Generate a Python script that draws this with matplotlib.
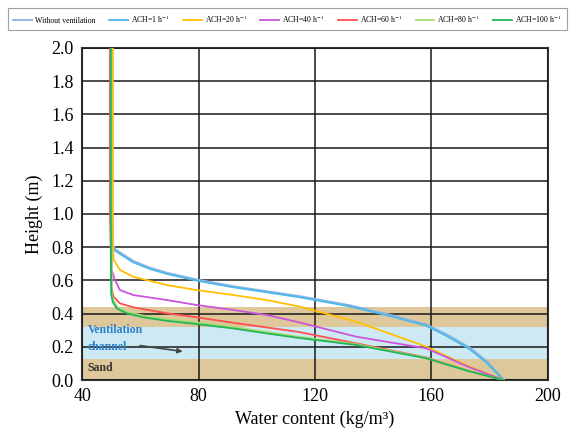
import matplotlib
matplotlib.use("Agg")
import matplotlib.pyplot as plt

plt.rcParams["mathtext.fontset"] = "stix"

# ---------------- data ----------------
labels = ["Without ventilation", "ACH=1 h$^{-1}$", "ACH=20 h$^{-1}$", "ACH=40 h$^{-1}$",
          "ACH=60 h$^{-1}$", "ACH=80 h$^{-1}$", "ACH=100 h$^{-1}$"]

x_novent = [50.3, 50.3, 50.4, 51.5, 57.8, 63.5, 69.3, 79.6, 92.2, 103.6, 115.0, 132.2, 145.9, 158.5, 165.4, 173.4, 179.2, 185.0]
y_novent = [2.00, 1.00, 0.82, 0.786, 0.716, 0.676, 0.646, 0.605, 0.565, 0.535, 0.505, 0.450, 0.393, 0.334, 0.274, 0.194, 0.113, 0.00]

x_ach1 = [50.0, 50.0, 50.1, 51.2, 57.4, 63.1, 68.9, 79.2, 91.8, 103.2, 114.6, 131.8, 145.5, 158.1, 165.0, 173.0, 178.8, 184.8]
y_ach1 = [2.00, 1.00, 0.81, 0.780, 0.710, 0.670, 0.640, 0.599, 0.559, 0.529, 0.499, 0.444, 0.387, 0.328, 0.268, 0.188, 0.107, 0.00]

x_ach20 = [50.6, 50.6, 50.7, 50.9, 53.0, 57.6, 69.1, 79.4, 92.0, 103.4, 114.8, 134.3, 158.3, 172.0, 184.8]
y_ach20 = [2.00, 1.00, 0.78, 0.723, 0.663, 0.622, 0.572, 0.542, 0.512, 0.482, 0.442, 0.351, 0.201, 0.090, 0.00]

x_ach40 = [50.0, 50.0, 50.2, 51.3, 53.0, 57.6, 69.1, 79.4, 92.0, 103.4, 114.0, 134.3, 158.3, 172.0, 184.8]
y_ach40 = [2.00, 1.00, 0.66, 0.602, 0.542, 0.512, 0.482, 0.452, 0.422, 0.392, 0.350, 0.261, 0.191, 0.085, 0.00]

x_ach60 = [49.6, 49.6, 50.1, 50.8, 53.0, 57.6, 69.1, 79.4, 92.0, 103.4, 114.0, 134.3, 158.3, 172.0, 184.8]
y_ach60 = [2.00, 1.00, 0.56, 0.502, 0.462, 0.438, 0.402, 0.378, 0.345, 0.317, 0.291, 0.221, 0.136, 0.060, 0.00]

x_ach80 = [50.1, 50.1, 50.2, 50.7, 52.2, 55.5, 61.0, 69.1, 79.4, 92.0, 103.4, 114.0, 134.3, 158.3, 172.0, 184.8]
y_ach80 = [2.00, 1.00, 0.53, 0.480, 0.440, 0.410, 0.388, 0.367, 0.347, 0.320, 0.290, 0.262, 0.216, 0.134, 0.060, 0.00]

x_ach100 = [49.9, 49.9, 50.0, 50.5, 51.9, 55.3, 61.0, 69.1, 79.4, 92.0, 103.4, 114.0, 134.3, 158.3, 172.0, 184.8]
y_ach100 = [2.00, 1.00, 0.52, 0.472, 0.432, 0.402, 0.378, 0.357, 0.337, 0.311, 0.281, 0.255, 0.211, 0.131, 0.058, 0.00]

colors = ["#8db4e2", "#4db8e8", "#ffc000", "#cc55dd", "#ff5050", "#a8dc70", "#22b558"]

x_ticks = [40, 80, 120, 160, 200]
y_ticks = [0.0, 0.2, 0.4, 0.6, 0.8, 1.0, 1.2, 1.4, 1.6, 1.8, 2.0]

# layers (bottom, top)
sand_low = (0.0, 0.127)
channel = (0.127, 0.32)
sand_high = (0.32, 0.44)

# ---------------- figure ----------------
fig = plt.figure(figsize=(5.7, 4.43), dpi=100)
ax = fig.add_axes([0.144, 0.142, 0.817, 0.750])

tan = "#dec79a"
blue_band = "#cde9f4"
for (b, t), c in [(sand_low, tan), (channel, blue_band), (sand_high, tan)]:
    ax.axhspan(b, t, color=c, zorder=0, lw=0)

series = [(x_novent, y_novent), (x_ach1, y_ach1), (x_ach20, y_ach20), (x_ach40, y_ach40),
          (x_ach60, y_ach60), (x_ach80, y_ach80), (x_ach100, y_ach100)]
handles = []
for (xs, ys), c, lab in zip(series, colors, labels):
    h, = ax.plot(xs, ys, color=c, lw=1.3, label=lab, zorder=3, solid_joinstyle="round")
    handles.append(h)

ax.set_xlim(40, 200)
ax.set_ylim(0, 2.0)
ax.set_xticks(x_ticks)
ax.set_yticks(y_ticks)
ax.set_xticklabels([str(v) for v in x_ticks])
ax.set_yticklabels([f"{v:.1f}" for v in y_ticks])
ax.grid(True, color="#1a1a1a", lw=1.1, zorder=2)
ax.set_axisbelow(False)
for s in ax.spines.values():
    s.set_color("#333333")
    s.set_linewidth(1.5)
ax.tick_params(length=0, labelsize=13, pad=6)
for lab in ax.get_xticklabels() + ax.get_yticklabels():
    lab.set_family("Liberation Serif")

ax.set_xlabel("Water content (kg/m\u00b3)", family="Liberation Serif", fontsize=13, labelpad=4)
ax.set_ylabel("Height (m)", family="Liberation Serif", fontsize=13, labelpad=6)

ax.text(42, 0.25, "Ventilation\nchannel", color="#2f7fc8", family="Liberation Serif",
        fontsize=8.5, fontweight="bold", va="center", ha="left", linespacing=1.5, zorder=4)
ax.text(42, 0.075, "Sand", color="#333333", family="Liberation Serif",
        fontsize=8.5, fontweight="bold", va="center", ha="left", zorder=4)
ax.annotate("", xy=(75.5, 0.17), xytext=(59, 0.21),
            arrowprops=dict(arrowstyle="-|>", color="#444444", lw=1.2, mutation_scale=7), zorder=4)

leg = fig.legend(handles=handles, loc="lower left", bbox_to_anchor=(0.018, 0.937, 0.972, 0.045),
                 mode="expand", ncol=7, frameon=True, handlelength=2.4,
                 handletextpad=0.4, columnspacing=0.6, borderaxespad=0,
                 prop={"family": "Liberation Serif", "size": 5.6})
leg.get_frame().set_edgecolor("#888888")
leg.get_frame().set_linewidth(0.8)
leg.get_frame().set_boxstyle("square")

fig.savefig("out.png", dpi=100)
